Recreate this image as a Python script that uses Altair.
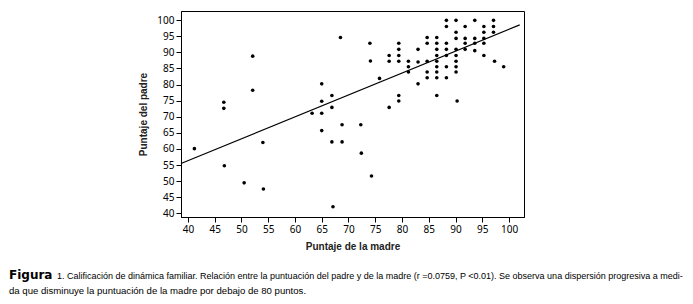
import altair as alt
import pandas as pd

# Mother's score (x) and father's score (y)
mother = [41.2, 46.7, 46.7, 46.8, 50.5, 52.1, 52.1, 54.0, 54.1, 63.2,
          65.0, 65.0, 65.0, 65.0, 66.9, 66.9, 66.9, 67.1, 68.5, 68.8,
          68.8, 72.3, 72.4, 74.0, 74.1, 74.3, 75.8,
          88.3, 90.1, 93.6, 97.1,
          88.3, 91.8, 95.3, 97.1,
          90.1, 95.3, 97.1,
          84.7, 86.5,
          90.1, 91.8, 93.6, 95.3,
          79.4, 84.7, 86.5, 88.3, 91.8, 93.6, 95.3,
          79.4, 83.0, 86.5, 88.3, 90.1, 91.8,
          93.6,
          77.6, 79.4, 86.5, 88.3, 90.1, 95.3,
          77.6, 79.4, 81.2, 84.7, 86.5, 90.1, 97.3,
          83.0,
          81.2, 86.5, 88.3, 90.1, 99.0,
          81.2, 84.7, 86.5, 90.1,
          84.7, 86.5, 88.3,
          83.0,
          79.4, 86.5,
          79.4, 90.3,
          77.6]
father = [60.1, 74.5, 72.6, 54.8, 49.5, 88.8, 78.2, 62.0, 47.6, 71.1,
          80.2, 74.8, 71.1, 65.7, 76.6, 72.9, 62.2, 42.1, 94.6, 67.5,
          62.2, 67.5, 58.7, 92.8, 87.3, 51.6, 81.9,
          99.9, 99.9, 99.9, 99.9,
          98.0, 98.0, 98.0, 98.0,
          96.2, 96.2, 96.2,
          94.6, 94.6,
          94.3, 94.3, 94.3, 94.3,
          92.8, 92.8, 92.8, 92.8, 92.8, 92.8, 92.8,
          90.9, 90.9, 90.9, 90.9, 90.9, 90.9,
          90.5,
          89.0, 89.0, 89.0, 89.0, 89.0, 89.0,
          87.2, 87.2, 87.2, 87.2, 87.2, 87.2, 87.2,
          87.0,
          85.5, 85.5, 85.5, 85.5, 85.5,
          83.9, 83.9, 83.9, 83.9,
          82.1, 82.1, 82.1,
          80.2,
          76.6, 76.6,
          74.9, 74.9,
          72.9]

# Regression line as drawn in the figure
fit_mother = [38.7, 102.0]
fit_father = [55.5, 98.5]

x_ticks = [40, 45, 50, 55, 60, 65, 70, 75, 80, 85, 90, 95, 100]
y_ticks = [40, 45, 50, 55, 60, 65, 70, 75, 80, 85, 90, 95, 100]
x_domain = [38.7, 102.8]
y_domain = [38.9, 102.8]

caption_bold = "Figura"
caption_lines = [
    "1. Calificación de dinámica familiar. Relación entre la puntuación del padre y de la madre (r =0.0759, P <0.01). Se observa una dispersión progresiva a medi-",
    "da que disminuye la puntuación de la madre por debajo de 80 puntos.",
]

pts = pd.DataFrame({"madre": mother, "padre": father})
fit = pd.DataFrame({"madre": fit_mother, "padre": fit_father})

xs = alt.Scale(domain=x_domain, nice=False, zero=False)
ys = alt.Scale(domain=y_domain, nice=False, zero=False)

x_axis = alt.Axis(values=x_ticks, title="Puntaje de la madre", grid=False,
                  titlePadding=7, labelOverlap=False, tickCount=13)
y_axis = alt.Axis(values=y_ticks, title="Puntaje del padre", grid=False,
                  titlePadding=8, labelOverlap=False, tickCount=13)

x_enc = alt.X("madre:Q", scale=xs, axis=x_axis)
y_enc = alt.Y("padre:Q", scale=ys, axis=y_axis)

points = alt.Chart(pts).mark_circle(size=13, color="black", opacity=1).encode(
    x=x_enc, y=y_enc,
)

line = alt.Chart(fit).mark_line(color="black", strokeWidth=1.2).encode(
    x=x_enc, y=y_enc,
)

cap_bold = alt.Chart(pd.DataFrame({"t": [caption_bold]})).mark_text(
    font="DejaVu Sans", fontSize=12, fontWeight="bold", align="left",
    baseline="alphabetic", color="black"
).encode(x=alt.value(-172), y=alt.value(268), text="t:N")

cap1 = alt.Chart(pd.DataFrame({"t": [caption_lines[0]]})).mark_text(
    font="Liberation Sans", fontSize=9.0,
    align="left", baseline="alphabetic", color="black"
).encode(x=alt.value(-124), y=alt.value(268), text="t:N")

cap2 = alt.Chart(pd.DataFrame({"t": [caption_lines[1]]})).mark_text(
    font="Liberation Sans", fontSize=9.6,
    align="left", baseline="alphabetic", color="black"
).encode(x=alt.value(-172), y=alt.value(283), text="t:N")

chart = alt.layer(points, line, cap_bold, cap1, cap2).properties(
    width=343, height=206,
    padding={"left": 173, "top": 3, "right": 161, "bottom": 79},
    autosize="none",
).configure_view(
    stroke="black", strokeWidth=1
).configure_axis(
    labelFont="Noto Sans", labelFontSize=10, labelColor="black",
    labelPadding=2, tickColor="black", tickSize=5, tickWidth=1,
    domainColor="black", domainWidth=1, labelOverlap=False,
    titleFont="Liberation Sans",
    titleFontSize=10, titleFontWeight="bold", titleColor="#222",
)

chart.save("out.html", embed_options={"renderer": "svg", "actions": False})
